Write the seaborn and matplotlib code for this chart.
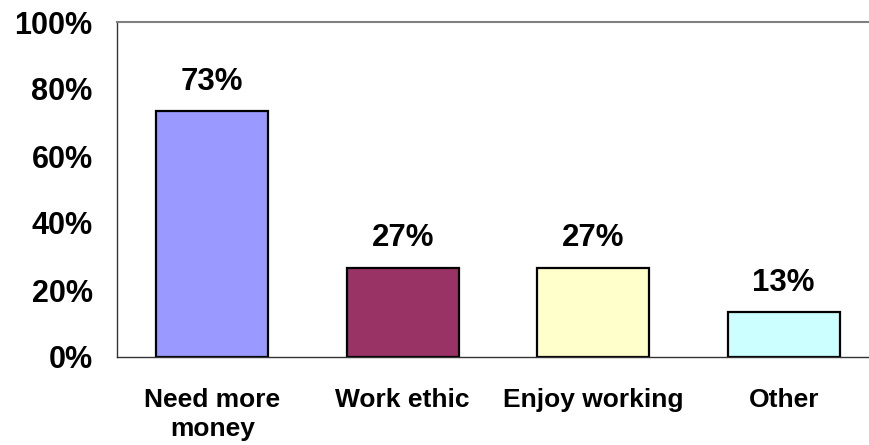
import matplotlib
matplotlib.use("Agg")
import matplotlib.pyplot as plt
import seaborn as sns
import pandas as pd
from matplotlib.ticker import FixedLocator

categories = ["Need more\nmoney", "Work ethic", "Enjoy working", "Other"]
values = [73.3, 26.7, 26.7, 13.3]
labels = ["73%", "27%", "27%", "13%"]
colors = ["#9999FF", "#993366", "#FFFFCC", "#CCFFFF"]
yticks = [0, 20, 40, 60, 80, 100]
ytick_labels = ["0%", "20%", "40%", "60%", "80%", "100%"]

sns.set_style("white")
plt.rcParams["font.family"] = ["Liberation Sans", "DejaVu Sans"]
plt.rcParams["text.color"] = "black"
plt.rcParams["xtick.labelcolor"] = "black"
plt.rcParams["ytick.labelcolor"] = "black"

df = pd.DataFrame({"cat": categories, "val": values})

fig = plt.figure(figsize=(8.7, 4.45), dpi=100)
ax = fig.add_axes([117/870, 1-357/445, 762/870, 335/445])

sns.barplot(data=df, x="cat", y="val", hue="cat", palette=colors, legend=False,
            width=0.586, edgecolor="black", linewidth=1.6, ax=ax, saturation=1)

ax.set_ylim(0, 100)
ax.set_xlim(-0.5, 3.5)
ax.set_yticks(yticks)
ax.set_yticklabels(ytick_labels, fontsize=22, fontweight="bold", color="black")
ax.set_xticks(range(len(categories)))
ax.set_xticklabels(categories, fontsize=19, fontweight="bold", linespacing=1.3, color="black")
ax.xaxis.set_minor_locator(FixedLocator([-0.5, 0.5, 1.5, 2.5, 3.5]))
ax.tick_params(axis="x", which="major", length=0, pad=22)
ax.tick_params(axis="x", which="minor", length=6, width=1, color="#333333", direction="out")
ax.tick_params(axis="y", which="major", length=7, width=1, color="#333333", direction="out", pad=10.5)
ax.set_xlabel("")
ax.set_ylabel("")

ax.spines["right"].set_visible(False)
ax.spines["top"].set_color("#808080")
ax.spines["top"].set_linewidth(1.5)
for s in ["left", "bottom"]:
    ax.spines[s].set_color("#333333")
    ax.spines[s].set_linewidth(1)

for i, (v, t) in enumerate(zip(values, labels)):
    ax.annotate(t, (i, v), xytext=(0, 15.5), textcoords="offset points",
                ha="center", va="baseline", fontsize=22.5, fontweight="bold", color="black")

fig.savefig("out.png", dpi=100)
